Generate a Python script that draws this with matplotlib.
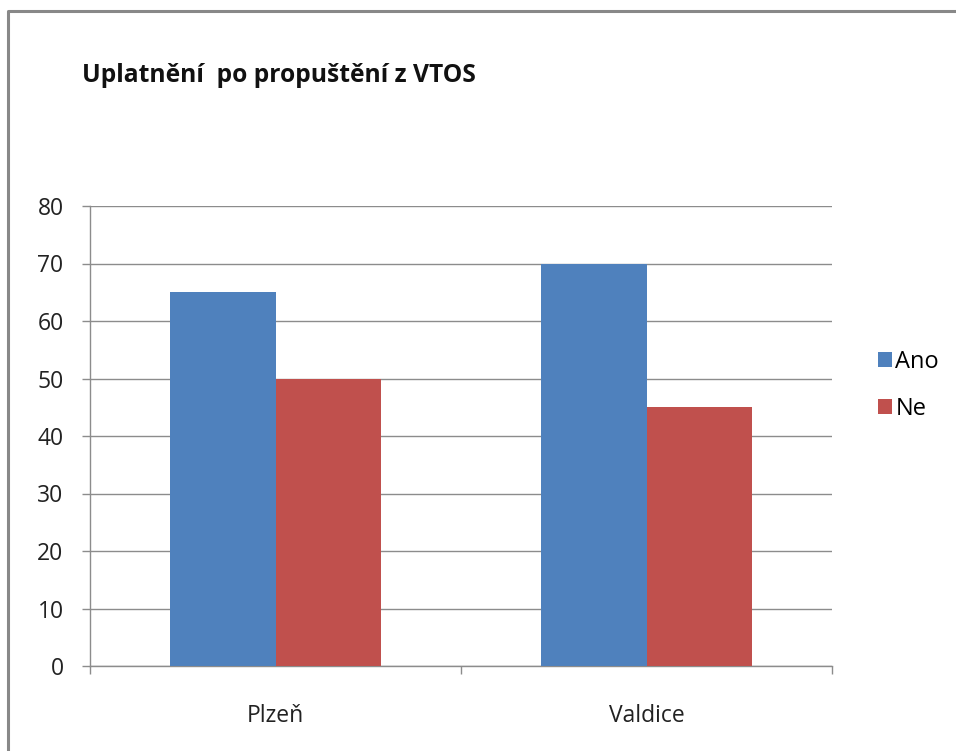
import matplotlib
matplotlib.use('Agg')
import matplotlib.pyplot as plt
import numpy as np
from matplotlib.lines import Line2D

# Data
categories = ['Plzeň', 'Valdice']
series_names = ['Ano', 'Ne']
ano_values = [65, 70]
ne_values = [50, 45]
colors = ['#4F81BD', '#C0504D']

plt.rcParams['font.family'] = ['Open Sans', 'DejaVu Sans']

fig = plt.figure(figsize=(9.56, 7.51), dpi=100)
ax = fig.add_axes([90 / 956, 85 / 751, 742 / 956, 460 / 751])

# outer chart border: only the top and left edges are inside the picture
bx, by = 8 / 956, 1 - 11 / 751
fig.lines.append(Line2D([bx, bx, 1.0], [0.0, by, by], transform=fig.transFigure,
                        color='#888888', linewidth=2.2))

x = np.arange(len(categories))
width = 0.285
ax.bar(x - width / 2, ano_values, width, color=colors[0], label=series_names[0], zorder=3)
ax.bar(x + width / 2, ne_values, width, color=colors[1], label=series_names[1], zorder=3)

ax.set_xlim(-0.5, len(categories) - 0.5)
ax.set_ylim(0, 80)
ax.set_yticks(range(0, 81, 10))
ax.yaxis.grid(True, color='#8c8c8c', linewidth=1, zorder=0)
ax.set_xticks(x)
ax.set_xticklabels(categories)
ax.set_xticks([-0.5, 0.5, 1.5], minor=True)
ax.tick_params(axis='x', which='major', length=0, pad=27, labelsize=16.5, colors='#222222')
ax.tick_params(axis='x', which='minor', length=6, width=1, color='#8c8c8c', direction='out')
ax.tick_params(axis='y', length=6, width=1, color='#8c8c8c', pad=13, labelsize=16.5, labelcolor='#222222')

for s in ['top', 'right']:
    ax.spines[s].set_visible(False)
for s in ['left', 'bottom']:
    ax.spines[s].set_color('#8c8c8c')
    ax.spines[s].set_linewidth(1)

fig.text(82 / 956, 1 - 76 / 751, 'Uplatnění  po propuštění z VTOS', fontsize=17.7,
         fontweight='bold', va='center', ha='left', color='#111111')

ax.legend(loc='center left', bbox_to_anchor=(1.033, 0.61), frameon=False,
          fontsize=17, handlelength=0.6, handleheight=0.6, handletextpad=0.15,
          labelspacing=1.0)

fig.savefig('out.png', dpi=100)
